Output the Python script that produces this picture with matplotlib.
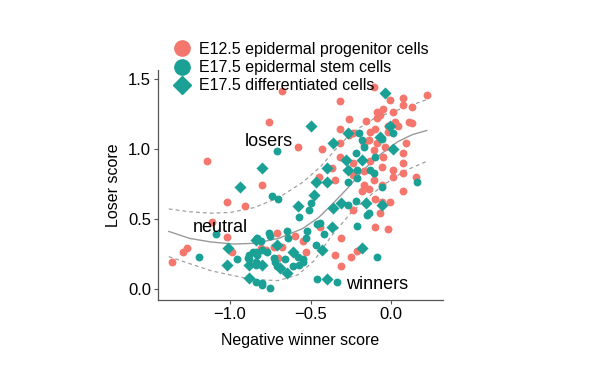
import matplotlib
matplotlib.use("Agg")
from matplotlib import pyplot as plt
from matplotlib.lines import Line2D

plt.rcParams['font.family'] = ['Liberation Sans', 'DejaVu Sans']

RED = '#F4766C'
TEAL = '#1BA096'

# E12.5 epidermal progenitor cells (negative winner score, loser score)
prog_x = [-1.14, -0.68, -0.76, -0.32, -0.26, -0.32, -0.26, -0.58, -0.43, -0.32,
          -0.32, -0.37, -0.45, -0.35, -0.80, -0.11, 0.22, -0.01, 0.07, 0.07,
          -0.05, 0.01, -0.09, 0.13, -0.09, -0.07, -0.16, 0.02, 0.11, 0.13,
          -0.02, 0.04, -0.10, -0.02, -0.24, -0.13, -0.14, -0.04, -0.09, -0.17,
          -0.11, 0.09, 0.07, -0.05, -0.13, -0.24, 0.07, -0.06, 0.01, -0.17,
          -0.24, 0.01, 0.07, -0.11, -0.17, 0.15, -0.06, -1.02, -0.91, -1.11,
          -1.02, -1.27, -1.29, -0.99, -1.36, -0.71, -0.60, -0.78, -0.68, -0.73,
          -0.70, -0.44, -0.55, -0.31, -0.81, -0.53, -0.35, -0.31, -0.18, -0.14,
          0.07, -0.10, -0.06, -0.01, -0.24, -0.07, -0.10, -0.02, -0.21, -0.25]
prog_y = [0.91, 1.41, 1.19, 1.34, 1.21, 1.14, 1.10, 1.01, 1.00, 1.04,
          0.94, 0.86, 0.80, 0.78, 0.74, 1.44, 1.38, 1.35, 1.36, 1.31,
          1.28, 1.26, 1.26, 1.30, 1.22, 1.24, 1.20, 1.19, 1.19, 1.18,
          1.16, 1.16, 1.14, 1.12, 1.11, 1.12, 1.06, 1.01, 1.04, 1.03,
          0.99, 1.04, 0.97, 0.94, 0.91, 0.90, 0.90, 0.87, 0.85, 0.84,
          0.81, 0.80, 0.83, 0.78, 0.74, 0.80, 0.74, 0.62, 0.59, 0.48,
          0.37, 0.29, 0.26, 0.26, 0.19, 0.40, 0.38, 0.28, 0.30, 0.30,
          0.22, 0.44, 0.34, 0.36, 0.29, 0.26, 0.24, 0.16, 0.70, 0.71,
          0.70, 0.64, 0.62, 0.62, 0.56, 0.54, 0.44, 0.43, 0.27, 0.23]

# E17.5 epidermal stem cells
stem_x = [-0.71, -0.27, 0.01, -0.20, -0.06, -0.18, -0.17, -0.22, -0.10, -0.21,
          -0.13, -0.11, -0.21, 0.16, -1.09, -1.19, -0.96, -0.89, -0.88, -0.86,
          -0.84, -0.84, -0.74, -0.70, -0.57, -0.76, -0.75, -0.65, -0.64, -0.50,
          -0.51, -0.27, -0.46, -0.44, -0.42, -0.52, -0.53, -0.47, -0.83, -0.77,
          -0.83, -0.73, -0.66, -0.58, -0.55, -0.57, -0.61, -0.84, -0.72, -0.71,
          -0.46, -0.34, -0.84, -0.80, -0.75, -0.06, -0.22, -0.15, -0.14, -0.21,
          -0.09, -0.55, -0.80, -0.81, -0.80, -0.88]
stem_y = [0.98, 0.76, 1.11, 1.11, 1.07, 1.06, 1.01, 0.97, 0.94, 0.85,
          0.85, 0.83, 0.79, 0.76, 0.39, 0.23, 0.21, 0.22, 0.24, 0.26,
          0.26, 0.17, 0.66, 0.64, 0.51, 0.40, 0.38, 0.41, 0.36, 0.61,
          0.56, 0.60, 0.46, 0.47, 0.39, 0.41, 0.36, 0.31, 0.36, 0.26,
          0.24, 0.22, 0.21, 0.23, 0.21, 0.17, 0.16, 0.19, 0.19, 0.16,
          0.07, 0.05, 0.05, 0.04, 0.01, 0.73, 0.63, 0.53, 0.54, 0.45,
          0.23, 0.19, 0.03, 0.34, 0.28, 0.21]

# E17.5 differentiated cells
diff_x = [-0.94, -0.50, -0.36, -0.80, -0.28, -0.27, -0.40, -0.40, -0.04, -0.01,
          -0.07, 0.01, -0.18, -1.01, -1.02, -0.88, -0.88, -0.48, -0.58, -0.36,
          -0.31, -0.37, -0.43, -0.71, -0.61, -0.80, -0.69, -0.65, -0.40, -0.16,
          -0.06, -0.18, -0.27, -0.47, -0.84]
diff_y = [0.73, 1.16, 1.04, 0.86, 0.92, 0.85, 0.86, 0.76, 1.40, 1.16,
          1.08, 1.00, 0.92, 0.29, 0.17, 0.17, 0.08, 0.67, 0.59, 0.58,
          0.61, 0.44, 0.28, 0.31, 0.26, 0.17, 0.15, 0.11, 0.07, 0.61,
          0.60, 0.29, 1.11, 0.76, 0.35]

# fitted curve and its band
fit_x = [-1.38, -1.25, -1.12, -0.98, -0.85, -0.70, -0.55, -0.45, -0.37, -0.27,
         -0.18, -0.09, 0.04, 0.13, 0.22]
fit_y = [0.41, 0.36, 0.335, 0.32, 0.325, 0.36, 0.43, 0.51, 0.60, 0.72,
         0.84, 0.94, 1.05, 1.10, 1.13]
upper_x = [-1.38, -1.25, -1.12, -1.0, -0.85, -0.70, -0.55, -0.44, -0.35, -0.25,
           -0.10, 0.05, 0.22]
upper_y = [0.57, 0.55, 0.54, 0.545, 0.58, 0.65, 0.76, 0.87, 0.99, 1.11,
           1.22, 1.28, 1.35]
lower_x = [-1.38, -1.25, -1.12, -1.0, -0.85, -0.70, -0.58, -0.48, -0.37, -0.26,
           -0.15, -0.05, 0.08, 0.22]
lower_y = [0.23, 0.18, 0.13, 0.10, 0.065, 0.06, 0.10, 0.20, 0.38, 0.53,
           0.65, 0.74, 0.84, 0.91]

fig = plt.figure(figsize=(6, 3.75), dpi=100)
ax = fig.add_axes([0.2633, 0.2, 0.475, 0.613])

ax.plot(fit_x, fit_y, color='#9a9a9a', lw=1.0, zorder=1)
ax.plot(upper_x, upper_y, color='#a0a0a0', lw=0.9, ls=(0, (3, 2.5)), zorder=1)
ax.plot(lower_x, lower_y, color='#a0a0a0', lw=0.9, ls=(0, (3, 2.5)), zorder=1)

ax.scatter(prog_x, prog_y, s=32, color=RED, marker='o', lw=0, zorder=2)
ax.scatter(stem_x, stem_y, s=32, color=TEAL, marker='o', lw=0, zorder=3)
ax.scatter(diff_x, diff_y, s=38, color=TEAL, marker='D', lw=0, zorder=3)

ax.text(-0.76, 1.05, 'losers', fontsize=13, ha='center', va='center')
ax.text(-1.06, 0.435, 'neutral', fontsize=13, ha='center', va='center')
ax.text(-0.09, 0.035, 'winners', fontsize=13, ha='center', va='center')

ax.set_xlim(-1.447, 0.32)
ax.set_ylim(-0.079, 1.56)
ax.set_xticks([-1.0, -0.5, 0.0])
ax.set_xticklabels(['\u22121.0', '\u22120.5', '0.0'])
ax.set_yticks([0.0, 0.5, 1.0, 1.5])
ax.tick_params(labelsize=12, length=3, width=0.8, color='#555555', pad=2)
for side in ['top', 'right']:
    ax.spines[side].set_visible(False)
for side in ['left', 'bottom']:
    ax.spines[side].set_color('#555555')
    ax.spines[side].set_linewidth(0.9)
ax.set_xlabel('Negative winner score', fontsize=11.5, labelpad=8)
ax.set_ylabel('Loser score', fontsize=11.5, labelpad=5)

handles = [
    Line2D([], [], ls='', marker='o', ms=11, color=RED),
    Line2D([], [], ls='', marker='o', ms=11, color=TEAL),
    Line2D([], [], ls='', marker='D', ms=9, color=TEAL),
]
labels = ['E12.5 epidermal progenitor cells', 'E17.5 epidermal stem cells',
          'E17.5 differentiated cells']
fig.legend(handles, labels, loc='upper left', bbox_to_anchor=(0.277, 0.905),
           frameon=False, fontsize=11.5, handletextpad=0.45, labelspacing=0.2,
           borderaxespad=0, handlelength=1.2)

fig.savefig('out.png', dpi=100)
